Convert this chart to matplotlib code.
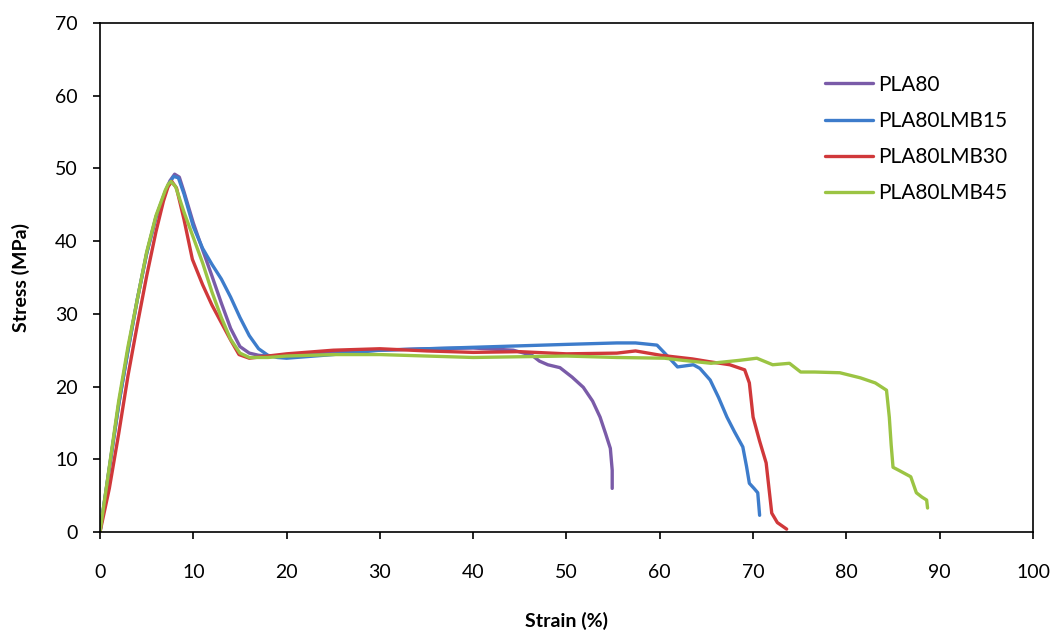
import matplotlib
matplotlib.use("Agg")
import matplotlib.pyplot as plt

plt.rcParams['font.family'] = ['Lato', 'DejaVu Sans']

# strain (%) / stress (MPa) for each blend
pla80_x = [0, 1, 2, 3, 4, 5, 6, 7, 7.5, 8.0, 8.5, 9.0, 10, 11, 12, 13, 14, 15, 16, 17, 18, 20, 25, 30,
           35, 40, 44.3, 46.3, 47.1, 48.0, 49.3, 50.6, 51.8, 52.8, 53.6, 54.2, 54.7, 54.9, 54.9]
pla80_y = [0, 8.8, 17.5, 25, 32, 38.3, 43.3, 46.8, 48.3, 49.2, 48.8, 46.8, 42.5, 38.8, 35.2, 31.5, 28,
           25.5, 24.6, 24.3, 24.2, 24.3, 24.8, 25.0, 25.2, 25.3, 25.0, 24.3, 23.5, 23.0, 22.6, 21.3,
           19.9, 18.0, 15.8, 13.5, 11.5, 8.5, 6.0]

lmb15_x = [0, 1, 2, 3, 4, 5, 6, 7, 7.5, 7.9, 8.4, 9, 10, 11, 12, 13, 14, 15, 16, 17, 18, 19, 20, 25,
           30, 35, 40, 45, 50, 55.4, 57.4, 59.7, 60.6, 61.9, 63.6, 64.3, 65.4, 66.3, 67.2, 68.0, 68.9,
           69.3, 69.6, 70.1, 70.5, 70.7]
lmb15_y = [0, 8.8, 17.5, 25, 32, 38.3, 43.3, 46.8, 48.1, 48.9, 48.7, 46.5, 42, 39, 36.8, 34.8, 32.3,
           29.5, 27, 25.2, 24.3, 24.0, 23.9, 24.4, 25.0, 25.2, 25.4, 25.6, 25.8, 26.0, 26.0, 25.7, 24.5,
           22.7, 23.0, 22.5, 20.9, 18.5, 15.8, 13.8, 11.7, 9.0, 6.7, 6.0, 5.4, 2.3]

lmb30_x = [0, 1, 2, 3, 4, 5, 6, 6.8, 7.3, 7.7, 8.2, 9, 9.9, 11, 12, 13, 14, 14.9, 16, 18, 20, 25, 30,
           35, 40, 45, 50, 55.4, 57.4, 60.1, 63.5, 65.4, 67.5, 69.1, 69.6, 70.0, 70.7, 71.4, 72.0, 72.6,
           73.6]
lmb30_y = [0, 6, 13.5, 21.5, 28.5, 35.2, 41.3, 45.5, 47.5, 48.2, 47.3, 43, 37.5, 34, 31.2, 28.8, 26.4,
           24.4, 23.9, 24.2, 24.5, 25.0, 25.2, 24.9, 24.7, 24.8, 24.5, 24.6, 24.9, 24.3, 23.8, 23.4,
           23.0, 22.3, 20.5, 15.8, 12.5, 9.5, 2.6, 1.3, 0.4]

lmb45_x = [0, 1, 2, 3, 4, 5, 6, 7, 7.3, 7.6, 8.1, 9, 10, 11, 12, 13, 14, 15, 16, 18, 20, 25, 30, 35,
           40, 45, 50, 55.4, 60.5, 62.5, 65.5, 68.5, 70.4, 72.1, 73.9, 75.1, 76.6, 79.3, 81.5, 83.1,
           84.3, 84.6, 84.8, 85.0, 85.6, 86.9, 87.5, 88.1, 88.6, 88.7]
lmb45_y = [0, 9, 18, 25.5, 32, 38.5, 43.5, 47, 47.8, 48.2, 47.5, 44, 40.5, 37, 33, 29.5, 26.5, 24.6,
           24.0, 24.0, 24.2, 24.4, 24.4, 24.2, 24.0, 24.1, 24.2, 24.0, 23.9, 23.6, 23.2, 23.6, 23.9,
           23.0, 23.2, 22.0, 22.0, 21.9, 21.2, 20.5, 19.5, 15.8, 12, 8.9, 8.5, 7.6, 5.4, 4.8, 4.4, 3.3]

labels = ['PLA80', 'PLA80LMB15', 'PLA80LMB30', 'PLA80LMB45']
colors = ['#7A5BA8', '#3D7CCB', '#D0383A', '#9BC443']

fig = plt.figure(figsize=(10.56, 6.37), dpi=100)
ax = fig.add_axes([0.0947, 0.1648, 0.8835, 0.7992])

series = [(pla80_x, pla80_y), (lmb15_x, lmb15_y), (lmb30_x, lmb30_y), (lmb45_x, lmb45_y)]
for (xs, ys), lab, c in zip(series, labels, colors):
    ax.plot(xs, ys, color=c, lw=2.4, label=lab, solid_joinstyle='round', solid_capstyle='round')

ax.set_xlim(0, 100)
ax.set_ylim(0, 70)
ax.set_xticks(range(0, 101, 10))
ax.set_yticks(range(0, 71, 10))
ax.tick_params(direction='out', length=5, width=1.2, labelsize=14)
ax.tick_params(axis='x', pad=18)
ax.tick_params(axis='y', pad=11)
for s in ax.spines.values():
    s.set_linewidth(1.2)

ax.set_xlabel('Strain (%)', fontsize=14, fontweight='bold', labelpad=22)
ax.set_ylabel('Stress (MPa)', fontsize=14, fontweight='bold', labelpad=18)

ax.legend(loc='upper left', bbox_to_anchor=(0.7737, 0.896), bbox_transform=fig.transFigure,
          borderaxespad=0, frameon=False, fontsize=15, handlelength=2.3, labelspacing=0.78,
          handletextpad=0.25)

fig.savefig('out.png', dpi=100)
